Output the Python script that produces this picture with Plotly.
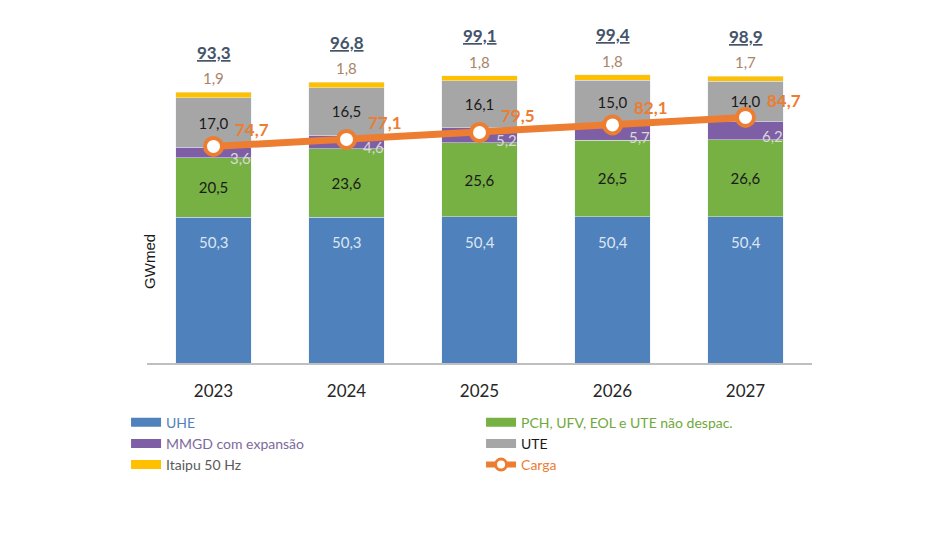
import plotly.graph_objects as go

years = ["2023", "2024", "2025", "2026", "2027"]
uhe = [50.3, 50.3, 50.4, 50.4, 50.4]
pch = [20.5, 23.6, 25.6, 26.5, 26.6]
mmgd = [3.6, 4.6, 5.2, 5.7, 6.2]
ute = [17.0, 16.5, 16.1, 15.0, 14.0]
itaipu = [1.9, 1.8, 1.8, 1.8, 1.7]
totals = [93.3, 96.8, 99.1, 99.4, 98.9]
carga = [74.7, 77.1, 79.5, 82.1, 84.7]

C_UHE = "#4F81BD"
C_PCH = "#77B043"
C_MMGD = "#7E5FA6"
C_UTE = "#A6A6A6"
C_ITA = "#FFC000"
C_CARGA = "#ED7D31"

FONT = "Lato"

def fmt(v):
    return f"{v:.1f}".replace(".", ",")

fig = go.Figure()

# stacked bars
fig.add_bar(x=years, y=uhe, marker_color=C_UHE, showlegend=False)
fig.add_bar(x=years, y=pch, marker_color=C_PCH, showlegend=False,
            text=[fmt(v) for v in pch], textposition="inside", insidetextanchor="middle",
            textfont=dict(color="#1a1a1a", size=15, family=FONT), textangle=0)
fig.add_bar(x=years, y=mmgd, marker_color=C_MMGD, showlegend=False)
fig.add_bar(x=years, y=ute, marker_color=C_UTE, showlegend=False,
            text=[fmt(v) for v in ute], textposition="inside", insidetextanchor="middle",
            textfont=dict(color="#1a1a1a", size=15, family=FONT), textangle=0)
fig.add_bar(x=years, y=itaipu, marker_color=C_ITA, showlegend=False)

# carga line
fig.add_scatter(x=years, y=carga, mode="lines+markers", showlegend=False,
                line=dict(color=C_CARGA, width=7),
                marker=dict(size=17, color="white", line=dict(color=C_CARGA, width=4)))

# legend-only entries
leg = [
    ("UHE", C_UHE, "#4F81BD"),
    ("PCH, UFV, EOL e UTE não despac.", C_PCH, "#6FA83C"),
    ("MMGD com expansão", C_MMGD, "#7D6A9C"),
    ("UTE", C_UTE, "#1a1a1a"),
    ("Itaipu 50 Hz", C_ITA, "#595959"),
]
for name, col, tcol in leg:
    fig.add_scatter(x=[years[0]], y=[None], mode="lines", line=dict(color=col, width=9),
                    name=f"<span style='color:{tcol}'>{name}</span>")
fig.add_scatter(x=[years[0]], y=[None], mode="lines+markers", line=dict(color=C_CARGA, width=6),
                marker=dict(size=11, color="white", line=dict(color=C_CARGA, width=3)),
                name=f"<span style='color:{C_CARGA}'>Carga</span>")

ann = []
for i in range(len(years)):
    ann.append(dict(x=i, y=totals[i], text=f"<u><b>{fmt(totals[i])}</b></u>", showarrow=False,
                    yshift=40, font=dict(size=17, color="#44546A", family=FONT)))
    ann.append(dict(x=i, y=totals[i], text=fmt(itaipu[i]), showarrow=False,
                    yshift=14, font=dict(size=15, color="#A98467", family=FONT)))
    ann.append(dict(x=i, y=uhe[i], text=fmt(uhe[i]), showarrow=False, yshift=-25,
                    font=dict(size=15, color="#DCE6F2", family=FONT)))
    mid = uhe[i] + pch[i] + mmgd[i] / 2
    ann.append(dict(x=i, y=mid, text=fmt(mmgd[i]), showarrow=False, xshift=27, yshift=-5,
                    font=dict(size=15, color="#D9D9D9", family=FONT)))
    ann.append(dict(x=i, y=carga[i], text=f"<b>{fmt(carga[i])}</b>", showarrow=False,
                    xshift=38, yshift=17, font=dict(size=17, color=C_CARGA, family=FONT)))

ann.append(dict(xref="paper", yref="paper", x=0, y=0.313, xshift=3, xanchor="center",
                yanchor="middle", text="GWmed", textangle=-90, showarrow=False,
                font=dict(size=15, color="#1a1a1a", family="Liberation Sans")))

fig.update_layout(
    width=952, height=534,
    margin=dict(l=139, r=148, t=32, b=179),
    barmode="stack", bargap=0.43,
    plot_bgcolor="white", paper_bgcolor="white",
    font=dict(family=FONT, size=15, color="#262626"),
    annotations=ann,
    legend=dict(orientation="h", x=-0.0315, xanchor="left", y=-0.135, yanchor="top",
                traceorder="normal", entrywidth=310, entrywidthmode="pixels",
                font=dict(size=14, family=FONT), itemwidth=30, tracegroupgap=0,
                bgcolor="rgba(0,0,0,0)"),
    xaxis=dict(type="category", showline=True, linecolor="#BFBFBF", linewidth=2, ticks="",
               tickfont=dict(size=17, color="#262626", family=FONT), showgrid=False,
               range=[-0.5, 4.5], fixedrange=True, ticklabelstandoff=12),
    yaxis=dict(range=[0, 111.4], visible=False, showgrid=False),
)

fig.write_html("out.html")
